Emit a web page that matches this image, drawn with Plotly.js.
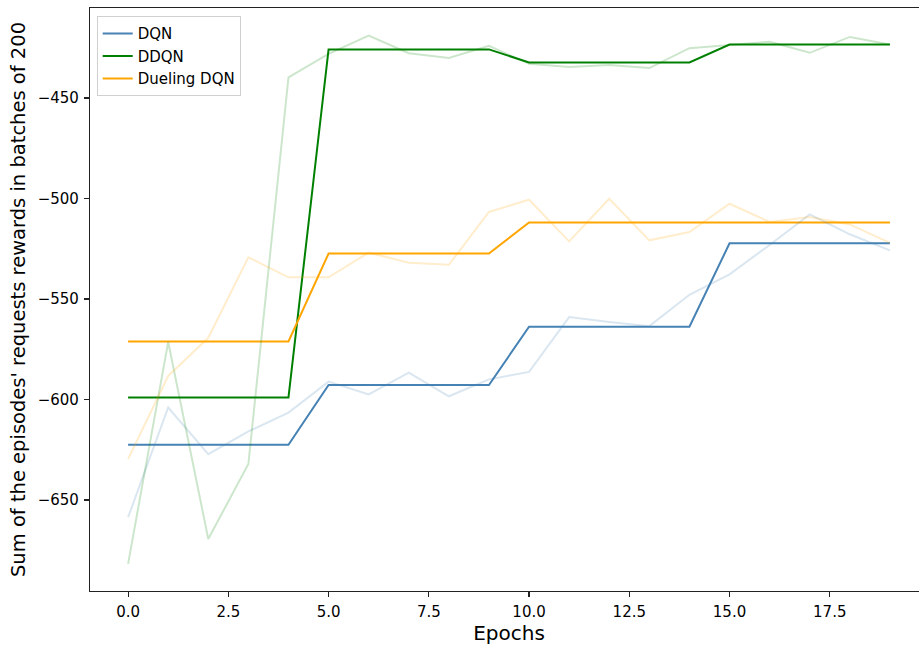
<!DOCTYPE html>
<html>
<head>
<meta charset="utf-8">
<script src="https://cdn.plot.ly/plotly-3.0.1.min.js"></script>
<style>html,body{margin:0;padding:0;background:#fff;overflow:hidden;width:919px;height:646px;}</style>
</head>
<body>
<div id="chart" style="width:928px;height:646px;"></div>
<script>
const epochs = [0,1,2,3,4,5,6,7,8,9,10,11,12,13,14,15,16,17,18,19];

const dqnRaw = [-658.6,-604,-627.2,-615.9,-606.5,-591.1,-597.5,-586.6,-598.4,-590,-586.3,-559,-561.5,-563.5,-547.9,-537.7,-523.1,-507.9,-517.8,-525.8];
const dqnBest = [-622.5,-622.5,-622.5,-622.5,-622.5,-592.8,-592.8,-592.8,-592.8,-592.8,-563.8,-563.8,-563.8,-563.8,-563.8,-522.3,-522.3,-522.3,-522.3,-522.3];

const ddqnRaw = [-681.8,-571.4,-669.4,-632.1,-439.7,-428,-418.9,-427.7,-430.1,-424,-433,-434.6,-433.6,-435.1,-425.2,-423.7,-422,-427.5,-419.6,-423.4];
const ddqnBest = [-599,-599,-599,-599,-599,-425.8,-425.8,-425.8,-425.8,-425.8,-432.3,-432.3,-432.3,-432.3,-432.3,-423.4,-423.4,-423.4,-423.4,-423.4];

const duelRaw = [-629.7,-588.3,-569.3,-529.3,-539.2,-539.2,-526.9,-532,-533,-506.7,-500.6,-521.3,-500.1,-520.8,-516.7,-502.6,-511.7,-509.2,-512.9,-522.1];
const duelBest = [-571.1,-571.1,-571.1,-571.1,-571.1,-527.4,-527.4,-527.4,-527.4,-527.4,-511.9,-511.9,-511.9,-511.9,-511.9,-511.9,-511.9,-511.9,-511.9,-511.9];

const names = ['DQN','DDQN','Dueling DQN'];
const colors = ['#4682b4','#008000','#ffa500'];
const raws = [dqnRaw, ddqnRaw, duelRaw];
const bests = [dqnBest, ddqnBest, duelBest];

const traces = [];
for (let i = 0; i < 3; i++) {
  traces.push({x: epochs, y: bests[i], mode: 'lines', name: names[i],
    line: {color: colors[i], width: 2}, showlegend: true});
}
for (let i = 0; i < 3; i++) {
  traces.push({x: epochs, y: raws[i], mode: 'lines', name: names[i] + ' raw',
    line: {color: colors[i], width: 2}, opacity: 0.2, showlegend: false});
}

const axisCommon = {
  showgrid: false, zeroline: false, showline: true, mirror: true,
  linecolor: '#222', linewidth: 1.1, ticks: 'outside', ticklen: 5, tickwidth: 1.1, tickcolor: '#222',
  ticklabelstandoff: 2,
  tickfont: {family: 'DejaVu Sans', size: 15, color: '#000'}
};

const layout = {
  width: 928, height: 646,
  margin: {l: 90, r: 0, t: 8, b: 55},
  paper_bgcolor: '#fff', plot_bgcolor: '#fff',
  font: {family: 'DejaVu Sans', color: '#000'},
  xaxis: Object.assign({}, axisCommon, {
    range: [-0.95, 19.95], tickvals: [0,2.5,5,7.5,10,12.5,15,17.5],
    ticktext: ['0.0','2.5','5.0','7.5','10.0','12.5','15.0','17.5'],
    title: {text: 'Epochs', font: {family: 'DejaVu Sans', size: 20, color: '#000'}, standoff: 1}
  }),
  yaxis: Object.assign({}, axisCommon, {
    range: [-695.3, -405.2], tickvals: [-650,-600,-550,-500,-450],
    title: {text: "Sum of the episodes' requests rewards in batches of 200", font: {family: 'DejaVu Sans', size: 19.5, color: '#000'}, standoff: 6}
  }),
  legend: {x: 0.008, y: 0.986, xanchor: 'left', yanchor: 'top', itemwidth: 30,
    bgcolor: 'rgba(255,255,255,0.8)', bordercolor: '#d0d0d0', borderwidth: 1,
    font: {family: 'DejaVu Sans', size: 15, color: '#000'}}
};

Plotly.newPlot('chart', traces, layout, {displayModeBar: false, staticPlot: true});
</script>
</body>
</html>
